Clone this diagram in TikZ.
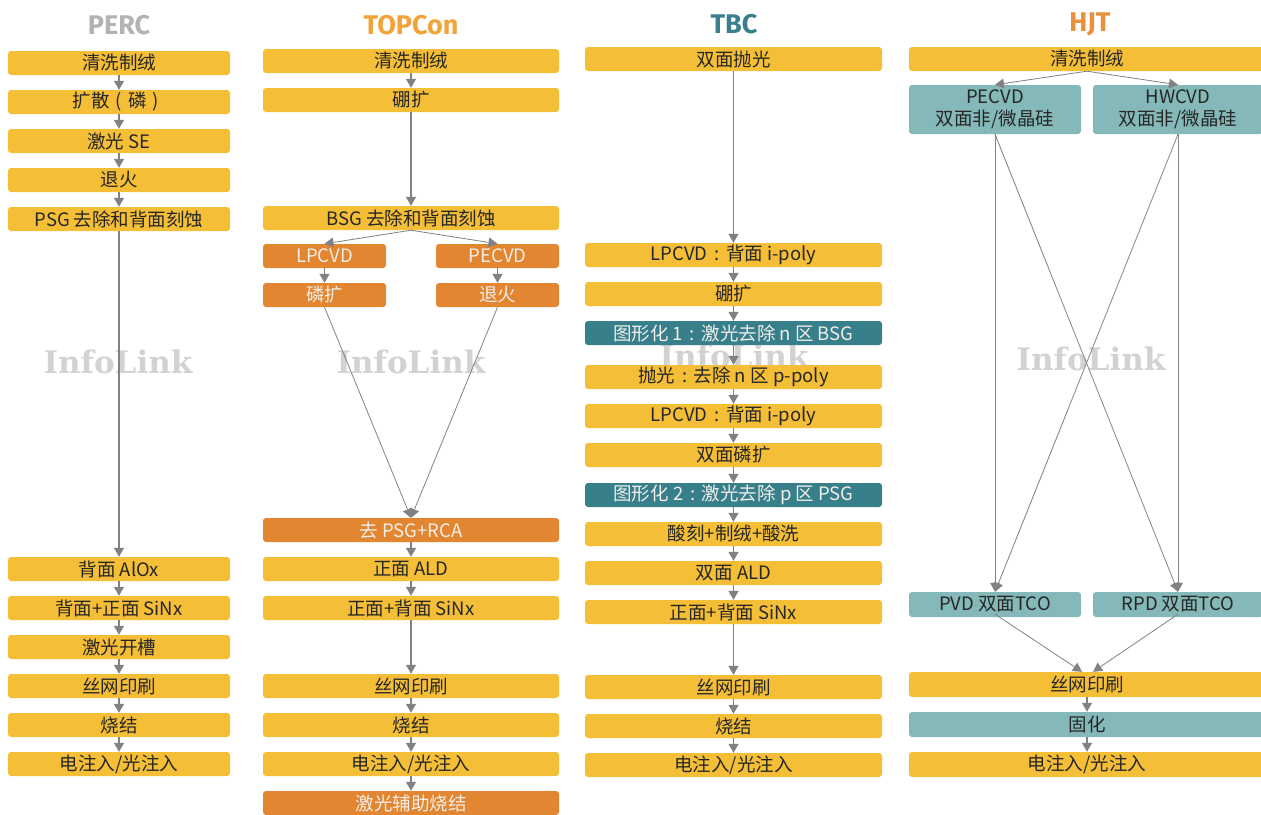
\documentclass[tikz,border=0pt]{standalone}
\usepackage{fontspec}
\setmainfont{Noto Sans CJK SC}
\newfontfamily\titlefont{Fira Sans}
\newfontfamily\wmfont{DejaVu Serif}
\usetikzlibrary{arrows.meta}
\definecolor{ycol}{HTML}{F5BE37}
\definecolor{ocol}{HTML}{E38631}
\definecolor{dteal}{HTML}{367F8B}
\definecolor{lteal}{HTML}{85B8B8}
\definecolor{agray}{HTML}{808185}
\definecolor{tdark}{HTML}{262626}
\definecolor{tlight}{HTML}{F2EEE8}
\definecolor{wmgray}{HTML}{D2D2D2}
\definecolor{cperc}{HTML}{B3B3B3}
\definecolor{ctop}{HTML}{F2A33A}
\definecolor{ctbc}{HTML}{3A7F8B}
\definecolor{chjt}{HTML}{E8913A}
\newcommand{\fcolon}{\makebox[1em]{:}}
\newcommand{\fpl}{\makebox[1em]{(}}
\newcommand{\fpr}{\makebox[1em]{)}}
\tikzset{
  box/.style={rounded corners=3pt, minimum height=24pt, inner sep=0pt, font=\fontsize{18.5}{22}\selectfont, align=center},
  ybox/.style={box, fill=ycol, text=tdark},
  obox/.style={box, fill=ocol, text=tlight},
  dbox/.style={box, fill=dteal, text=tlight},
  lbox/.style={box, fill=lteal, text=tdark},
  arr/.style={draw=agray, line width=1.2pt, -{Triangle[width=10pt,length=9pt]}},
  darr/.style={draw=agray, line width=0.8pt, -{Triangle[width=10pt,length=9pt, line width=0pt]}},
  ttl/.style={font=\titlefont\bfseries\fontsize{27}{30}\selectfont},
  wm/.style={font=\wmfont\bfseries\fontsize{31}{34}\selectfont, text=wmgray}
}
\begin{document}
\begin{tikzpicture}[x=1pt,y=-1pt]
\useasboundingbox (0,0) rectangle (1261,814);
% watermarks
\node[wm] (w1) at (118,362) {InfoLink};
\node[wm] (w2) at (411,362) {InfoLink};
\node[wm] (w3) at (734,356) {InfoLink};
\node[wm] (w4) at (1091,359) {InfoLink};
% titles
\node[ttl, text=cperc] (T1) at (119,25) {PERC};
\node[ttl, text=ctop] (T2) at (411,25) {TOPCon};
\node[ttl, text=ctbc] (T3) at (734,24) {TBC};
\node[ttl, text=chjt] (T4) at (1090,24) {HJT};
% PERC
\begin{scope}[every node/.append style={minimum width=222pt}]
\node[ybox] (p1) at (119,63) {清洗制绒};
\node[ybox] (p2) at (119,102) {扩散\fpl 磷\fpr};
\node[ybox] (p3) at (119,141) {激光 SE};
\node[ybox] (p4) at (119,180) {退火};
\node[ybox] (p5) at (119,219) {PSG 去除和背面刻蚀};
\node[ybox] (p6) at (119,569) {背面 AlOx};
\node[ybox] (p7) at (119,608) {背面+正面 SiNx};
\node[ybox] (p8) at (119,647) {激光开槽};
\node[ybox] (p9) at (119,686) {丝网印刷};
\node[ybox] (p10) at (119,725) {烧结};
\node[ybox] (p11) at (119,764) {电注入/光注入};
\end{scope}
% TOPCon
\begin{scope}[every node/.append style={minimum width=296pt}]
\node[ybox] (t1) at (411,61) {清洗制绒};
\node[ybox] (t2) at (411,100) {硼扩};
\node[ybox] (t3) at (411,218) {BSG 去除和背面刻蚀};
\node[obox] (t6) at (411,530) {去 PSG+RCA};
\node[ybox] (t7) at (411,569) {正面 ALD};
\node[ybox] (t8) at (411,608) {正面+背面 SiNx};
\node[ybox] (t9) at (411,686) {丝网印刷};
\node[ybox] (t10) at (411,725) {烧结};
\node[ybox] (t11) at (411,764) {电注入/光注入};
\node[obox] (t12) at (411,803) {激光辅助烧结};
\end{scope}
\begin{scope}[every node/.append style={minimum width=123pt}]
\node[obox] (t4a) at (324.5,256) {LPCVD};
\node[obox] (t4b) at (497.5,256) {PECVD};
\node[obox] (t5a) at (324.5,295) {磷扩};
\node[obox] (t5b) at (497.5,295) {退火};
\end{scope}
% TBC
\begin{scope}[every node/.append style={minimum width=297pt}]
\node[ybox] (b1) at (733.5,59) {双面抛光};
\node[ybox] (b2) at (733.5,255) {LPCVD\fcolon 背面 i-poly};
\node[ybox] (b3) at (733.5,294) {硼扩};
\node[dbox] (b4) at (733.5,333) {图形化 1\fcolon 激光去除 n 区 BSG};
\node[ybox] (b5) at (733.5,377) {抛光\fcolon 去除 n 区 p-poly};
\node[ybox] (b6) at (733.5,416) {LPCVD\fcolon 背面 i-poly};
\node[ybox] (b7) at (733.5,455) {双面磷扩};
\node[dbox] (b8) at (733.5,495) {图形化 2\fcolon 激光去除 p 区 PSG};
\node[ybox] (b9) at (733.5,534) {酸刻+制绒+酸洗};
\node[ybox] (b10) at (733.5,573) {双面 ALD};
\node[ybox] (b11) at (733.5,612) {正面+背面 SiNx};
\node[ybox] (b12) at (733.5,687) {丝网印刷};
\node[ybox] (b13) at (733.5,726) {烧结};
\node[ybox] (b14) at (733.5,765) {电注入/光注入};
\end{scope}
% HJT
\node[ybox, minimum width=356pt] (h1) at (1087,59) {清洗制绒};
\node[lbox, minimum width=172pt, minimum height=49pt] (h2a) at (995,109.5) {PECVD\\双面非/微晶硅};
\node[lbox, minimum width=170pt, minimum height=49pt] (h2b) at (1178,109.5) {HWCVD\\双面非/微晶硅};
\node[lbox, minimum width=172pt, minimum height=25pt] (h3a) at (995,604.5) {PVD 双面TCO};
\node[lbox, minimum width=170pt, minimum height=25pt] (h3b) at (1178,604.5) {RPD 双面TCO};
\node[ybox, minimum width=356pt, minimum height=25pt] (h4) at (1087,684.5) {丝网印刷};
\node[lbox, minimum width=356pt, minimum height=25pt] (h5) at (1087,724.5) {固化};
\node[ybox, minimum width=356pt, minimum height=25pt] (h6) at (1087,764.5) {电注入/光注入};
% arrows PERC
\foreach \a/\b in {p1/p2,p2/p3,p3/p4,p4/p5,p5/p6,p6/p7,p7/p8,p8/p9,p9/p10,p10/p11}
  \draw[arr] (\a) -- (\b);
% arrows TOPCon
\foreach \a/\b in {t1/t2,t2/t3,t4a/t5a,t4b/t5b,t6/t7,t7/t8,t8/t9,t9/t10,t10/t11,t11/t12}
  \draw[arr] (\a) -- (\b);
\draw[darr] (t3.south) -- (t4a.north);
\draw[darr] (t3.south) -- (t4b.north);
\draw[darr] (t5a.south) -- (t6.north);
\draw[darr] (t5b.south) -- (t6.north);
% arrows TBC
\foreach \a/\b in {b1/b2,b2/b3,b3/b4,b4/b5,b5/b6,b6/b7,b7/b8,b8/b9,b9/b10,b10/b11,b11/b12,b12/b13,b13/b14}
  \draw[arr] (\a) -- (\b);
% arrows HJT
\draw[darr] (h1.south) -- (h2a.north);
\draw[darr] (h1.south) -- (h2b.north);
\draw[darr] (h2a.south) -- (h3a.north);
\draw[darr] (h2b.south) -- (h3b.north);
\draw[darr] (h2a.south) -- (h3b.north);
\draw[darr] (h2b.south) -- (h3a.north);
\draw[darr] ([yshift=3pt]h3a.south) -- ([xshift=-5pt]h4.north);
\draw[darr] ([yshift=3pt]h3b.south) -- ([xshift=6pt]h4.north);
\draw[arr] (h4) -- (h5);
\draw[arr] (h5) -- (h6);
\end{tikzpicture}
\end{document}
